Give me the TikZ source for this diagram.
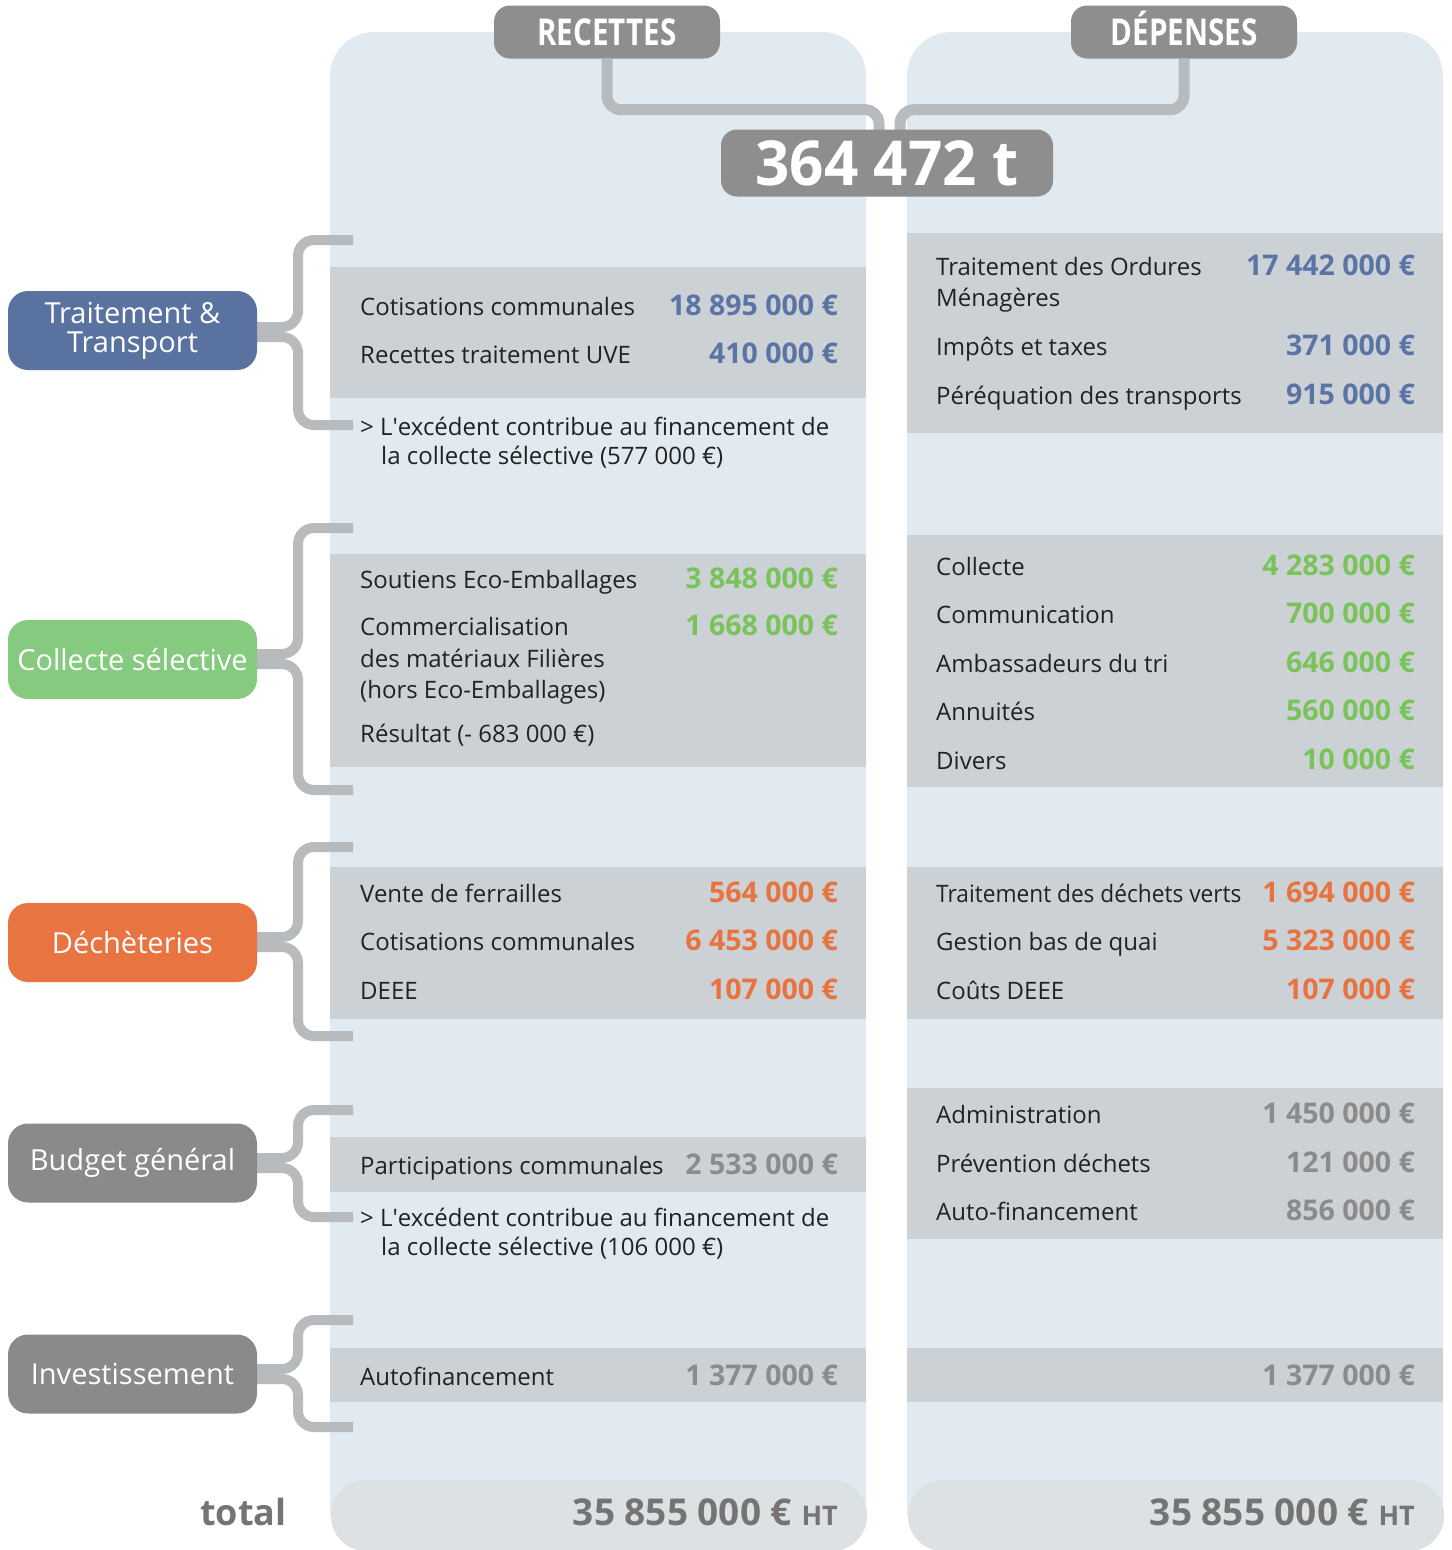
\documentclass[tikz,border=0pt]{standalone}
\usepackage{fontspec}
\setmainfont{Open Sans}
\definecolor{colbg}{HTML}{E0EAF0}
\definecolor{band}{HTML}{CCD1D5}
\definecolor{brc}{HTML}{B7BBBE}
\definecolor{hdr}{HTML}{8E8E8E}
\definecolor{lblue}{HTML}{5A72A0}
\definecolor{vblue}{HTML}{5B74A6}
\definecolor{lgreen}{HTML}{86CA7F}
\definecolor{vgreen}{HTML}{7AC35A}
\definecolor{lorange}{HTML}{E87441}
\definecolor{vorange}{HTML}{E8733E}
\definecolor{lgray}{HTML}{8A8A8A}
\definecolor{vgray}{HTML}{8B8B8B}
\definecolor{tgray}{HTML}{747474}
\definecolor{totbox}{HTML}{DCE1E4}
\definecolor{dark}{HTML}{222222}
\tikzset{
  txt/.style={anchor=base west,inner sep=0pt,text=dark,font=\fontsize{24}{30}\selectfont},
  val/.style={anchor=base east,inner sep=0pt,font=\fontsize{28.5}{30}\selectfont\bfseries},
  lab/.style={minimum width=249pt,minimum height=79pt,inner sep=0pt,text=white,align=center,font=\fontsize{29}{29}\selectfont},
  hbox/.style={fill=hdr,rounded corners=16pt,inner sep=0pt,text=white},
  htxt/.style={anchor=base,inner sep=0pt,text=white},
  brline/.style={draw=brc,line width=10pt,rounded corners=16pt},
  conn/.style={draw=brc,line width=11pt,rounded corners=14pt},
}
\newcommand\brk[4]{% label, top, bottom, mid
  \draw[brline] (353,#2) -- (298,#2) -- (298,#4-5) -- ([xshift=-6pt]#1.east |- 0,#4-5);
  \draw[brline] (353,#3) -- (298,#3) -- (298,#4+5) -- ([xshift=-6pt]#1.east |- 0,#4+5);
}
\begin{document}
\begin{tikzpicture}[x=1pt,y=-1pt]
\useasboundingbox (0,0) rectangle (1451,1550);
% columns
\fill[colbg] (330,1515) [rounded corners=44pt] -- (330,32) -- (866,32) [sharp corners] -- (866,1515) -- cycle;
\fill[colbg] (907,1515) [rounded corners=44pt] -- (907,32) -- (1443,32) [sharp corners] -- (1443,1515) -- cycle;
% bands left
\fill[band] (330,267) rectangle (866,398);
\fill[band] (330,554) rectangle (866,767);
\fill[band] (330,867) rectangle (866,1019);
\fill[band] (330,1137) rectangle (866,1192);
\fill[band] (330,1348) rectangle (866,1402);
% bands right
\fill[band] (907,233) rectangle (1443,433);
\fill[band] (907,535) rectangle (1443,787);
\fill[band] (907,867) rectangle (1443,1019);
\fill[band] (907,1088) rectangle (1443,1239);
\fill[band] (907,1348) rectangle (1443,1402);
% totals
\fill[totbox,rounded corners=35pt] (331,1480) rectangle (867,1551);
\fill[totbox,rounded corners=35pt] (908,1480) rectangle (1444,1551);

% header nodes
\node[hbox,minimum width=226pt,minimum height=53pt] (rec) at (607,32) {};
\node[hbox,minimum width=226pt,minimum height=53pt] (dep) at (1184,32) {};
\node[htxt] (rect) at (607,45) {\scalebox{0.8}[1]{\fontsize{37}{40}\selectfont\bfseries RECETTES}};
\node[htxt] (dept) at (1184,45) {\scalebox{0.8}[1]{\fontsize{37}{40}\selectfont\bfseries DÉPENSES}};
\path (887,163) coordinate (tc);
\draw[conn] (rec.south) -- ++(0,51) -| ([xshift=-8pt,yshift=-30pt]tc);
\draw[conn] (dep.south) -- ++(0,51) -| ([xshift=13pt,yshift=-30pt]tc);
\node[hbox,minimum width=332pt,minimum height=67pt] (tons) at (tc) {\scalebox{0.97}[1]{\fontsize{62}{64}\selectfont\bfseries 364 472 t}};

% braces (drawn before labels)
\node[lab] (tt) at (132.5,330.5) {};
\node[lab] (cs) at (132.5,659.5) {};
\node[lab] (dc) at (132.5,942.5) {};
\node[lab] (bg) at (132.5,1163) {};
\node[lab] (iv) at (132.5,1374) {};
\brk{tt}{240}{425}{332}
\brk{cs}{528}{790}{659}
\brk{dc}{847}{1036}{942}
\brk{bg}{1110}{1217}{1163}
\brk{iv}{1320}{1427}{1374}
% labels
\node[lab,fill=lblue,rounded corners=20pt] (tt2) at (132.5,330.5) {Traitement \&\\Transport};
\node[lab,fill=lgreen,rounded corners=20pt] (cs2) at (132.5,659.5) {Collecte sélective};
\node[lab,fill=lorange,rounded corners=20pt] (dc2) at (132.5,942.5) {Déchèteries};
\node[lab,fill=lgray,rounded corners=20pt] (bg2) at (132.5,1163) {Budget général};
\node[lab,fill=lgray,rounded corners=20pt] (iv2) at (132.5,1374) {Investissement};

% left column texts
\node[txt] (l1) at (360,315) {Cotisations communales};
\node[val,text=vblue] (v1) at (838,315) {18 895 000 €};
\node[txt] (l2) at (360,363) {Recettes traitement UVE};
\node[val,text=vblue] (v2) at (838,363) {410 000 €};
\node[txt] (l3) at (360,435) {> L\textquotesingle excédent contribue au financement de};
\node[txt] (l4) at (381,464) {la collecte sélective (577 000 €)};
\node[txt] (l5) at (360,588) {Soutiens Eco-Emballages};
\node[val,text=vgreen] (v5) at (838,588) {3 848 000 €};
\node[txt] (l6) at (360,635) {Commercialisation};
\node[val,text=vgreen] (v6) at (838,635) {1 668 000 €};
\node[txt] (l7) at (360,667) {des matériaux Filières};
\node[txt] (l8) at (360,698) {(hors Eco-Emballages)};
\node[txt] (l9) at (360,742) {Résultat (- 683 000 €)};
\node[txt] (l10) at (360,902) {Vente de ferrailles};
\node[val,text=vorange] (v10) at (838,902) {564 000 €};
\node[txt] (l11) at (360,950) {Cotisations communales};
\node[val,text=vorange] (v11) at (838,950) {6 453 000 €};
\node[txt] (l12) at (360,999) {DEEE};
\node[val,text=vorange] (v12) at (838,999) {107 000 €};
\node[txt] (l13) at (360,1174) {Participations communales};
\node[val,text=vgray] (v13) at (838,1174) {2 533 000 €};
\node[txt] (l14) at (360,1226) {> L\textquotesingle excédent contribue au financement de};
\node[txt] (l15) at (381,1255) {la collecte sélective (106 000 €)};
\node[txt] (l16) at (360,1385) {Autofinancement};
\node[val,text=vgray] (v16) at (838,1385) {1 377 000 €};

% right column texts
\node[txt] (r1) at (936,275) {Traitement des Ordures};
\node[val,text=vblue] (w1) at (1415,275) {17 442 000 €};
\node[txt] (r2) at (936,306) {Ménagères};
\node[txt] (r3) at (936,355) {Impôts et taxes};
\node[val,text=vblue] (w3) at (1415,355) {371 000 €};
\node[txt] (r4) at (936,404) {Péréquation des transports};
\node[val,text=vblue] (w4) at (1415,404) {915 000 €};
\node[txt] (r5) at (936,575) {Collecte};
\node[val,text=vgreen] (w5) at (1415,575) {4 283 000 €};
\node[txt] (r6) at (936,623) {Communication};
\node[val,text=vgreen] (w6) at (1415,623) {700 000 €};
\node[txt] (r7) at (936,672) {Ambassadeurs du tri};
\node[val,text=vgreen] (w7) at (1415,672) {646 000 €};
\node[txt] (r8) at (936,720) {Annuités};
\node[val,text=vgreen] (w8) at (1415,720) {560 000 €};
\node[txt] (r9) at (936,769) {Divers};
\node[val,text=vgreen] (w9) at (1415,769) {10 000 €};
\node[txt] (r10) at (936,902) {\scalebox{0.945}[1]{Traitement des déchets verts}};
\node[val,text=vorange] (w10) at (1415,902) {1 694 000 €};
\node[txt] (r11) at (936,950) {Gestion bas de quai};
\node[val,text=vorange] (w11) at (1415,950) {5 323 000 €};
\node[txt] (r12) at (936,999) {Coûts DEEE};
\node[val,text=vorange] (w12) at (1415,999) {107 000 €};
\node[txt] (r13) at (936,1123) {Administration};
\node[val,text=vgray] (w13) at (1415,1123) {1 450 000 €};
\node[txt] (r14) at (936,1172) {Prévention déchets};
\node[val,text=vgray] (w14) at (1415,1172) {121 000 €};
\node[txt] (r15) at (936,1220) {Auto-financement};
\node[val,text=vgray] (w15) at (1415,1220) {856 000 €};
\node[val,text=vgray] (w16) at (1415,1385) {1 377 000 €};

% totals
\node[anchor=base west,inner sep=0pt,text=tgray,font=\fontsize{36}{40}\selectfont\bfseries] (tot) at (200,1525) {total};
\node[anchor=base east,inner sep=0pt,text=tgray] (t1) at (838,1525) {\fontsize{37}{40}\selectfont\bfseries 35 855 000 € \fontsize{27}{30}\selectfont HT};
\node[anchor=base east,inner sep=0pt,text=tgray] (t2) at (1415,1525) {\fontsize{37}{40}\selectfont\bfseries 35 855 000 € \fontsize{27}{30}\selectfont HT};
\end{tikzpicture}
\end{document}
